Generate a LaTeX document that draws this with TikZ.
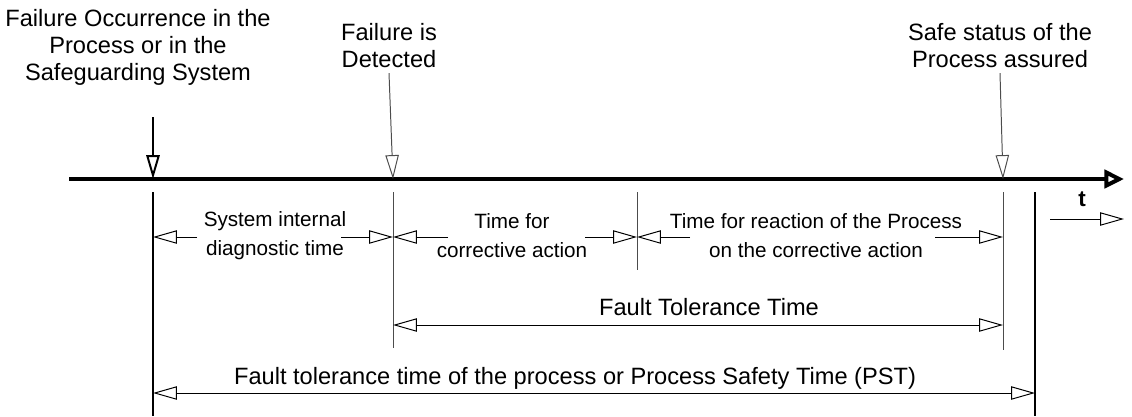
\documentclass[tikz,border=0pt]{standalone}
\usepackage{fontspec}
\setmainfont{Liberation Sans}
\usetikzlibrary{arrows.meta}

\begin{document}
\begin{tikzpicture}[
    x=0.025cm,y=-0.025cm,
    >={Triangle[open,length=17pt,width=9.5pt]},
    head/.style={align=center,font=\fontsize{16.8}{19.2}\selectfont},
    note/.style={align=center,font=\fontsize{14.7}{20.6}\selectfont},
    axis/.style={line width=2.8pt},
    bar/.style={line width=1.4pt},
    tick/.style={gray!60!black,line width=0.7pt},
    dim/.style={line width=0.7pt},
]
\useasboundingbox (0,0) rectangle (1132,416);

% events above the axis
\node[head] (occ) at (138,47) {Failure Occurrence in the\\Process or in the\\Safeguarding System};
\node[head] (det) at (389,46) {Failure is\\Detected};
\node[head] (safe) at (1000,46) {Safe status of the\\Process assured};

% time axis
\coordinate (a0) at (69,179);
\coordinate (a1) at (1124,179);
\draw[axis,-{Triangle[open,length=14pt,width=13pt]}] (a0) -- (a1);

\coordinate (p1) at (153,179);
\coordinate (p2) at (393,179);
\coordinate (p3) at (1003,179);
\coordinate (s1) at (153,117);
\draw[bar,->] (s1) -- (p1);
\draw[tick,->] (det.south) -- (p2);
\draw[tick,->] (safe.south) -- (p3);

% lines below the axis
\draw[bar] (153,192) -- (153,416);
\draw[tick] (393,192) -- (393,348);
\draw[tick] (637,192) -- (637,270);
\draw[tick] (1003,192) -- (1003,350);
\draw[bar] (1035,192) -- (1035,416);

% t
\node[font=\fontsize{16}{16}\selectfont\bfseries] (t) at (1082,199) {t};
\coordinate (t0) at (1050,219);
\coordinate (t1) at (1124,219);
\draw[dim,->] (t0) -- (t1);

% phases
\node[note] (diag) at (275,236) {System internal\\diagnostic time};
\node[note] (corr) at (512,236) {Time for\\corrective action};
\node[note] (react) at (816,236) {Time for reaction of the Process\\on the corrective action};

\coordinate (q1) at (153,237);
\coordinate (q2) at (393,237);
\coordinate (q3) at (637,237);
\coordinate (q4) at (1003,237);
\draw[dim,->] (197,237) -- (q1);
\draw[dim,->] (341,237) -- (q2);
\draw[dim,->] (448,237) -- (q2);
\draw[dim,->] (585,237) -- (q3);
\draw[dim,->] (690,237) -- (q3);
\draw[dim,->] (935,237) -- (q4);

% fault tolerance time
\node[head] (ftt) at (709,307) {Fault Tolerance Time};
\coordinate (f1) at (393,325);
\coordinate (f2) at (1003,325);
\draw[dim,<->] (f1) -- (f2);

% process safety time
\node[head] (pst) at (575,378) {Fault tolerance time of the process or Process Safety Time (PST)};
\coordinate (g1) at (153,393);
\coordinate (g2) at (1035,393);
\draw[dim,<->] (g1) -- (g2);
\end{tikzpicture}
\end{document}
